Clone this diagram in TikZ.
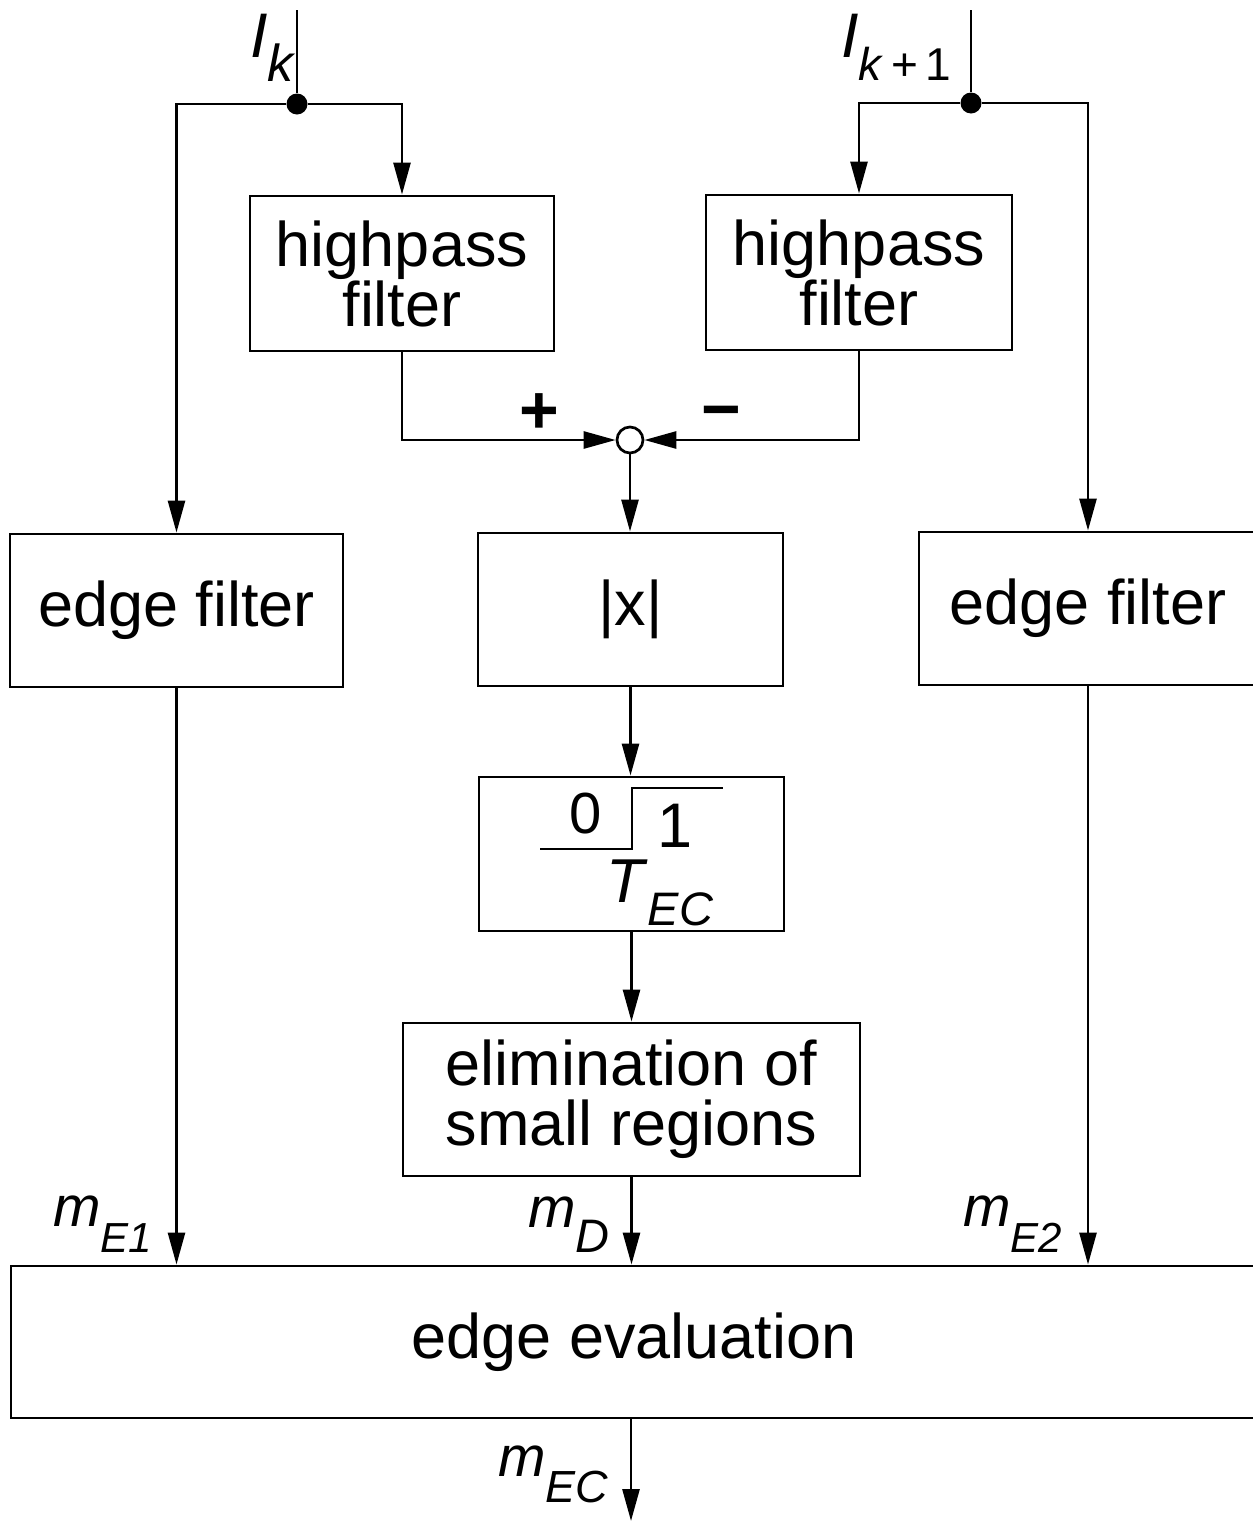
\documentclass[tikz,border=0pt]{standalone}
\usepackage{fontspec}
\setmainfont{Liberation Sans}
\usetikzlibrary{arrows.meta}
\begin{document}
\begin{tikzpicture}[x=1pt,y=-1pt,
  box/.style={draw, line width=2.9pt, inner sep=0pt, align=center, font=\fontsize{63}{60}\selectfont},
  conn/.style={line width=2.7pt},
  arr/.style={conn, -{Triangle[length=32pt,width=17pt]}},
  dot/.style={circle, fill, inner sep=0pt, minimum size=21pt},
  lbl/.style={inner sep=0pt, anchor=base west, font=\fontsize{57}{57}\selectfont},
  sym/.style={inner sep=0pt},
]
\useasboundingbox (0,0) rectangle (1253,1521);

% boxes
\node[box, minimum width=304pt, minimum height=155pt] (hp1) at (402,273.5) {highpass\\filter};
\node[box, minimum width=306pt, minimum height=155pt] (hp2) at (859,272.5) {highpass\\filter};
\node[box, minimum width=333pt, minimum height=153pt] (ef1) at (176.5,610.5) {edge filter};
\node[box, minimum width=305pt, minimum height=153pt] (abs) at (630.5,609.5) {|x|};
\node[box, minimum width=338pt, minimum height=153pt] (ef2) at (1088,608.5) {edge filter};
\node[box, minimum width=305pt, minimum height=154pt] (thr) at (631.5,854) {};
\node[box, minimum width=457pt, minimum height=153pt] (elim) at (631.5,1099.5) {elimination of\\small regions};
\node[box, minimum width=1246pt, minimum height=152pt] (eval) at (634,1342) {edge evaluation};

% inputs and junctions
\coordinate (in1) at (297,10);
\coordinate (in2) at (971,10);
\node[dot] (j1) at (297,104) {};
\node[dot] (j2) at (971,103) {};
\draw[conn] (in1) -- (j1);
\draw[conn] (in2) -- (j2);
\draw[arr] (j1) -| (ef1.north);
\draw[arr] (j1) -| (hp1.north);
\draw[arr] (j2) -| (hp2.north);
\draw[arr] (j2) -| (ef2.north);

% summation
\node[circle, draw, fill=white, line width=2.7pt, minimum size=26pt, inner sep=0pt] (sum) at (630,440) {};
\draw[arr] (hp1.south) |- (sum.west);
\draw[arr] (hp2.south) |- (sum.east);
\node[sym, font=\bfseries\fontsize{68}{68}\selectfont] (plus) at (539,414) {+};
\node[sym, font=\bfseries\fontsize{68}{68}\selectfont] (minus) at (721,419) {−};

% main chain
\draw[arr] (sum.south) -- (sum.south |- abs.north);
\draw[arr] (abs.south) -- (abs.south |- thr.north);
\draw[arr] (thr.south) -- (elim.north);
\draw[arr] (ef1.south) -- (ef1.south |- eval.north);
\draw[arr] (elim.south) -- (elim.south |- eval.north);
\draw[arr] (ef2.south) -- (ef2.south |- eval.north);
\coordinate (out) at (631,1521);
\draw[arr] (out |- eval.south) -- (out);

% threshold symbol
\draw[conn] (540,849) -- (632,849) -- (632,788) -- (723,788);
\node[sym, font=\fontsize{58}{58}\selectfont] (zero) at (586,814) {0};
\node[sym, font=\fontsize{63}{63}\selectfont] (one) at (675,826) {1};
\node[lbl, font=\fontsize{62}{62}\selectfont] (tec) at (606,902) {\textit{T}\raisebox{-23pt}{\fontsize{47}{47}\selectfont\textit{EC}}};

% labels
\node[lbl, font=\fontsize{63}{63}\selectfont] (lk) at (250,57) {\textit{I}\raisebox{-24pt}{\fontsize{52}{52}\selectfont\textit{k}}};
\node[lbl, font=\fontsize{63}{63}\selectfont] (lk1) at (841,57) {\textit{I}\raisebox{-23pt}{\fontsize{46}{46}\selectfont\textit{k}\,+\,1}};
\node[lbl] (me1) at (53,1226) {\textit{m}\raisebox{-26pt}{\fontsize{42}{42}\selectfont\textit{E1}}};
\node[lbl] (md) at (528,1227) {\textit{m}\raisebox{-25pt}{\fontsize{47}{47}\selectfont\textit{D}}};
\node[lbl] (me2) at (963,1226) {\textit{m}\raisebox{-26pt}{\fontsize{42}{42}\selectfont\textit{E2}}};
\node[lbl] (mec) at (498,1476) {\textit{m}\raisebox{-26pt}{\fontsize{45}{45}\selectfont\textit{EC}}};
\end{tikzpicture}
\end{document}
